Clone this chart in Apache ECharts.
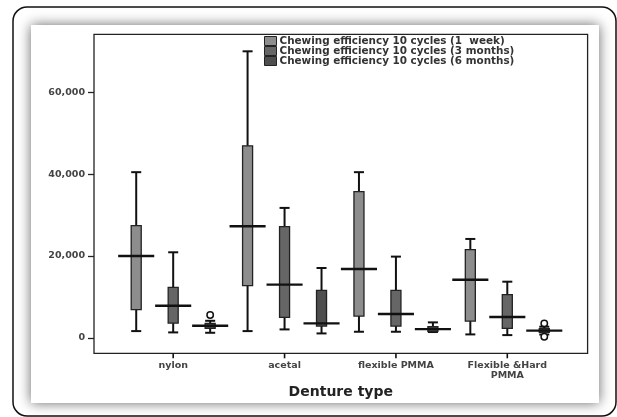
<!DOCTYPE html>
<html><head><meta charset="utf-8">
<script src="https://cdn.jsdelivr.net/npm/echarts@6/dist/echarts.min.js"></script>
<style>html,body{margin:0;padding:0;background:#fff}#c{width:617px;height:417px}</style>
</head><body><div id="c"></div>
<script>
var categories = ['nylon', 'acetal', 'flexible PMMA', 'Flexible &Hard\nPMMA'];
var seriesNames = ['Chewing efficiency 10 cycles (1  week)', 'Chewing efficiency 10 cycles (3 months)', 'Chewing efficiency 10 cycles (6 months)'];
// [min, Q1, median, Q3, max]
var week1 = [[1630, 6860, 20000, 27430, 40490], [1630, 12730, 27260, 46940, 70040], [1470, 5310, 16820, 35750, 40490], [820, 4080, 14200, 21550, 24160]];
var month3 = [[1310, 3590, 7840, 12330, 20900], [2040, 4980, 12980, 27180, 31750], [1470, 2860, 5800, 11590, 19840], [650, 2290, 5060, 10530, 13710]];
var month6 = [[1220, 2290, 2930, 3510, 4150], [1060, 2860, 3510, 11590, 17060], [1400, 1550, 2120, 2690, 3760], [800, 1300, 1750, 2200, 2700]];
var outliers6 = [[0, 5550], [3, 3510], [3, 250]];
var yTicks = [0, 20000, 40000, 60000];
var xTicks = [0, 1, 2, 3];

var fills = ['#8d8d8d', '#666666', '#4e4e4e'];
var offsets = [-0.332, 0, 0.332];
var FONT = 'DejaVu Sans';

function boxRender(off) {
  return function (params, api) {
    var cat = api.value(0);
    var band = api.size([1, 0])[0];
    var cx = api.coord([cat, 0])[0] + off * band;
    var y = [1, 2, 3, 4, 5].map(function (i) { return api.coord([cat, api.value(i)])[1]; });
    var half = 0.045 * band, medHalf = 0.162 * band;
    var ls = { stroke: '#111', lineWidth: 2 };
    return { type: 'group', children: [
      { type: 'line', shape: { x1: cx, y1: y[4], x2: cx, y2: y[0] }, style: ls },
      { type: 'line', shape: { x1: cx - half, y1: y[4], x2: cx + half, y2: y[4] }, style: ls },
      { type: 'line', shape: { x1: cx - half, y1: y[0], x2: cx + half, y2: y[0] }, style: ls },
      { type: 'rect', shape: { x: cx - half, y: y[3], width: 2 * half, height: y[1] - y[3] },
        style: { fill: api.visual('color'), stroke: '#222', lineWidth: 1.3 } },
      { type: 'line', shape: { x1: cx - medHalf, y1: y[2], x2: cx + medHalf, y2: y[2] }, style: { stroke: '#111', lineWidth: 2.4 } }
    ] };
  };
}
function outlierRender(off) {
  return function (params, api) {
    var cat = api.value(0);
    var band = api.size([1, 0])[0];
    var p = api.coord([cat, api.value(1)]);
    return { type: 'circle', shape: { cx: p[0] + off * band, cy: p[1], r: 3.2 },
      style: { fill: '#fff', stroke: '#111', lineWidth: 1.5 } };
  };
}
function tickRender(params, api) {
  var x = api.coord([api.value(0), 0])[0];
  var bottom = params.coordSys.y + params.coordSys.height;
  return { type: 'line', shape: { x1: x, y1: bottom, x2: x, y2: bottom + 5 }, style: { stroke: '#111', lineWidth: 1.6 } };
}
function toData(arr) { return arr.map(function (r, i) { return [i].concat(r); }); }

var series = [week1, month3, month6].map(function (arr, k) {
  return { type: 'custom', name: seriesNames[k],
    itemStyle: { color: fills[k], borderColor: '#222', borderWidth: 1 },
    renderItem: boxRender(offsets[k]), encode: { x: 0, y: [1, 2, 3, 4, 5] }, data: toData(arr), z: 3 };
});
series.push({ type: 'custom', name: seriesNames[2],
  itemStyle: { color: fills[2], borderColor: '#222', borderWidth: 1 },
  renderItem: outlierRender(offsets[2]), encode: { x: 0, y: 1 }, data: outliers6, z: 4 });
series.push({ type: 'custom', name: 'xticks', clip: false, silent: true,
  renderItem: tickRender, encode: { x: 0, y: 1 }, data: xTicks.map(function (t) { return [t, 0]; }), z: 4 });

var chart = echarts.init(document.getElementById('c'));
chart.setOption({
  animation: false,
  backgroundColor: '#fff',
  graphic: [
    { type: 'rect', z: -10, shape: { x: 13, y: 7, width: 603, height: 409, r: 14 }, style: { fill: '#fff', stroke: '#111', lineWidth: 1.5 } },
    { type: 'rect', z: -9, shape: { x: 31, y: 25, width: 568, height: 378 }, style: { fill: '#fff', shadowBlur: 12, shadowColor: 'rgba(0,0,0,0.6)' } }
  ],
  legend: {
    data: seriesNames.map(function (n, k) { return { name: n, itemStyle: { color: fills[k], borderColor: '#222', borderWidth: 1 } }; }),
    orient: 'vertical', left: 264, top: 36, padding: 0, itemGap: 0,
    itemWidth: 12, itemHeight: 9, icon: 'rect', selectedMode: false,
    textStyle: { fontFamily: FONT, fontWeight: 'bold', fontSize: 10.4, color: '#333', lineHeight: 10, padding: [0, 0, 0, -2] }
  },
  grid: { left: 94, right: 29.4, top: 34.3, bottom: 63.7, show: true, borderColor: '#222', borderWidth: 1.3, backgroundColor: 'transparent' },
  xAxis: {
    type: 'value', min: -0.711, max: 3.721,
    splitLine: { show: false },
    axisLine: { show: false, onZero: false },
    axisTick: { show: false },
    axisLabel: { customValues: xTicks, margin: 7, fontFamily: FONT, fontWeight: 'bold', fontSize: 9.5, color: '#444', lineHeight: 10,
      formatter: function (v) { return categories[Math.round(v)]; } },
    name: 'Denture type', nameLocation: 'middle', nameGap: 30,
    nameTextStyle: { fontFamily: FONT, fontWeight: 'bold', fontSize: 14, color: '#222' }
  },
  yAxis: {
    type: 'value', min: -3800, max: 74200,
    splitLine: { show: false },
    axisLine: { show: false, onZero: false },
    axisTick: { show: true, customValues: yTicks, length: 6, lineStyle: { color: '#222', width: 1.3 } },
    axisLabel: { customValues: yTicks, margin: 9, fontFamily: FONT, fontWeight: 'bold', fontSize: 9.5, color: '#444',
      formatter: function (v) { return v.toLocaleString('en-US'); } }
  },
  series: series
});
</script></body></html>
